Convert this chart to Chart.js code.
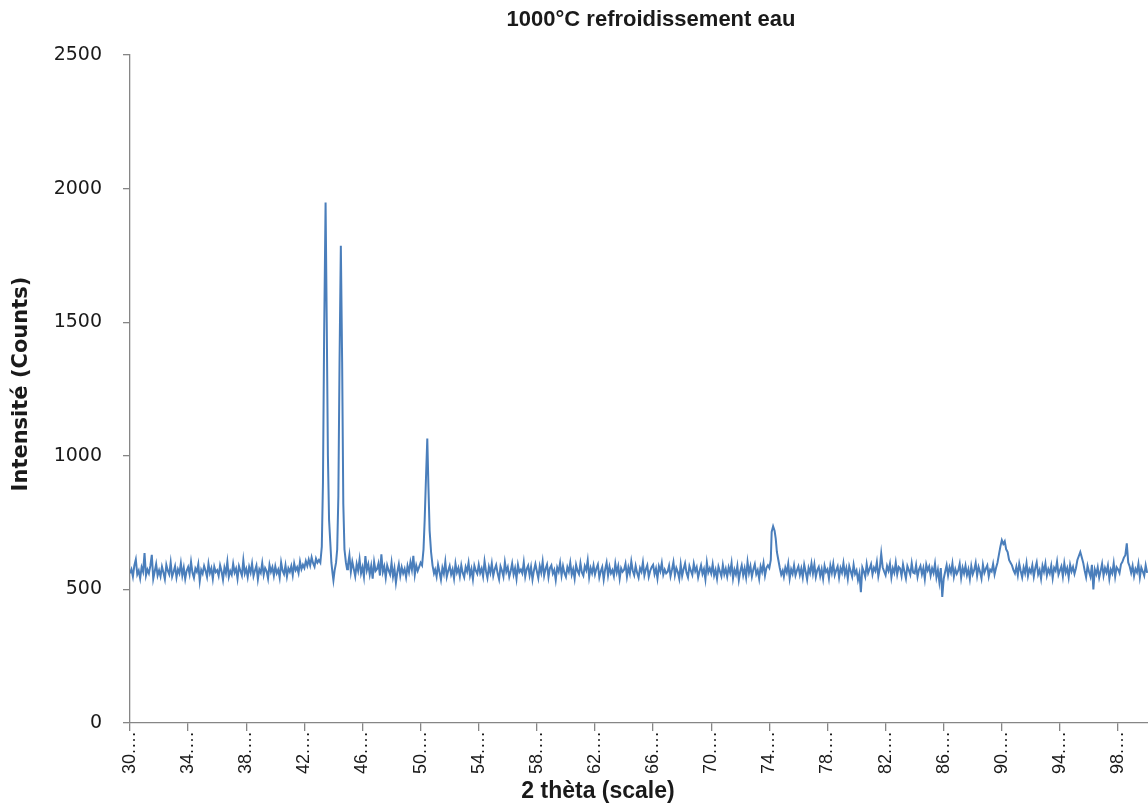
<!DOCTYPE html>
<html><head><meta charset="utf-8">
<script src="https://cdn.jsdelivr.net/npm/chart.js@4/dist/chart.umd.min.js"></script>
<style>html,body{margin:0;padding:0;background:#fff;overflow:hidden}#wrap{width:1148px;height:811px;position:relative}</style>
</head><body><div id="wrap"><canvas id="c" width="1148" height="811"></canvas></div>
<script>
const chartTitle = '1000°C refroidissement eau';
const yAxisTitle = 'Intensité (Counts)';
const xAxisTitle = '2 thèta (scale)';
const xTickValues = [30,34,38,42,46,50,54,58,62,66,70,74,78,82,86,90,94,98];
const xTickLabels = ['30.…','34.…','38.…','42.…','46.…','50.…','54.…','58.…','62.…','66.…','70.…','74.…','78.…','82.…','86.…','90.…','94.…','98.…'];
const yTickValues = [0,500,1000,1500,2000,2500];

const twoTheta = [
30.0,30.1,30.2,30.3,30.4,30.5,30.6,30.7,30.8,30.9,
31.0,31.1,31.2,31.3,31.4,31.5,31.6,31.7,31.8,31.9,
32.0,32.1,32.2,32.3,32.4,32.5,32.6,32.7,32.8,32.9,
33.0,33.1,33.2,33.3,33.4,33.5,33.6,33.7,33.8,33.9,
34.0,34.1,34.2,34.3,34.4,34.5,34.6,34.7,34.8,34.9,
35.0,35.1,35.2,35.3,35.4,35.5,35.6,35.7,35.8,35.9,
36.0,36.1,36.2,36.3,36.4,36.5,36.6,36.7,36.8,36.9,
37.0,37.1,37.2,37.3,37.4,37.5,37.6,37.7,37.8,37.9,
38.0,38.1,38.2,38.3,38.4,38.5,38.6,38.7,38.8,38.9,
39.0,39.1,39.2,39.3,39.4,39.5,39.6,39.7,39.8,39.9,
40.0,40.1,40.2,40.3,40.4,40.5,40.6,40.7,40.8,40.9,
41.0,41.1,41.2,41.3,41.4,41.5,41.6,41.7,41.8,41.9,
42.0,42.1,42.2,42.3,42.4,42.5,42.6,42.7,42.8,42.9,
43.0,43.1,43.2,43.28,43.36,43.46,43.54,43.62,43.7,43.78,43.86,43.94,
44.0,44.08,44.18,44.26,44.34,44.42,44.51,44.6,44.68,44.76,44.86,44.94,
45.0,45.1,45.2,45.3,45.4,45.5,45.6,45.7,45.8,45.9,
46.0,46.1,46.2,46.3,46.4,46.5,46.6,46.7,46.8,46.9,
47.0,47.1,47.2,47.3,47.4,47.5,47.6,47.7,47.8,47.9,
48.0,48.1,48.2,48.3,48.4,48.5,48.6,48.7,48.8,48.9,
49.0,49.1,49.2,49.3,49.4,49.5,49.6,49.7,49.8,49.9,
50.0,50.1,50.2,50.28,50.36,50.46,50.54,50.62,50.72,50.82,50.92,
51.0,51.1,51.2,51.3,51.4,51.5,51.6,51.7,51.8,51.9,
52.0,52.1,52.2,52.3,52.4,52.5,52.6,52.7,52.8,52.9,
53.0,53.1,53.2,53.3,53.4,53.5,53.6,53.7,53.8,53.9,
54.0,54.1,54.2,54.3,54.4,54.5,54.6,54.7,54.8,54.9,
55.0,55.1,55.2,55.3,55.4,55.5,55.6,55.7,55.8,55.9,
56.0,56.1,56.2,56.3,56.4,56.5,56.6,56.7,56.8,56.9,
57.0,57.1,57.2,57.3,57.4,57.5,57.6,57.7,57.8,57.9,
58.0,58.1,58.2,58.3,58.4,58.5,58.6,58.7,58.8,58.9,
59.0,59.1,59.2,59.3,59.4,59.5,59.6,59.7,59.8,59.9,
60.0,60.1,60.2,60.3,60.4,60.5,60.6,60.7,60.8,60.9,
61.0,61.1,61.2,61.3,61.4,61.5,61.6,61.7,61.8,61.9,
62.0,62.1,62.2,62.3,62.4,62.5,62.6,62.7,62.8,62.9,
63.0,63.1,63.2,63.3,63.4,63.5,63.6,63.7,63.8,63.9,
64.0,64.1,64.2,64.3,64.4,64.5,64.6,64.7,64.8,64.9,
65.0,65.1,65.2,65.3,65.4,65.5,65.6,65.7,65.8,65.9,
66.0,66.1,66.2,66.3,66.4,66.5,66.6,66.7,66.8,66.9,
67.0,67.1,67.2,67.3,67.4,67.5,67.6,67.7,67.8,67.9,
68.0,68.1,68.2,68.3,68.4,68.5,68.6,68.7,68.8,68.9,
69.0,69.1,69.2,69.3,69.4,69.5,69.6,69.7,69.8,69.9,
70.0,70.1,70.2,70.3,70.4,70.5,70.6,70.7,70.8,70.9,
71.0,71.1,71.2,71.3,71.4,71.5,71.6,71.7,71.8,71.9,
72.0,72.1,72.2,72.3,72.4,72.5,72.6,72.7,72.8,72.9,
73.0,73.1,73.2,73.3,73.4,73.5,73.6,73.7,73.8,73.9,
74.0,74.1,74.16,74.26,74.36,74.44,74.52,74.62,74.72,74.82,74.92,
75.0,75.1,75.2,75.3,75.4,75.5,75.6,75.7,75.8,75.9,
76.0,76.1,76.2,76.3,76.4,76.5,76.6,76.7,76.8,76.9,
77.0,77.1,77.2,77.3,77.4,77.5,77.6,77.7,77.8,77.9,
78.0,78.1,78.2,78.3,78.4,78.5,78.6,78.7,78.8,78.9,
79.0,79.1,79.2,79.3,79.4,79.5,79.6,79.7,79.8,79.9,
80.0,80.1,80.2,80.3,80.4,80.5,80.6,80.7,80.8,80.9,
81.0,81.1,81.2,81.3,81.4,81.5,81.6,81.7,81.8,81.9,
82.0,82.1,82.2,82.3,82.4,82.5,82.6,82.7,82.8,82.9,
83.0,83.1,83.2,83.3,83.4,83.5,83.6,83.7,83.8,83.9,
84.0,84.1,84.2,84.3,84.4,84.5,84.6,84.7,84.8,84.9,
85.0,85.1,85.2,85.3,85.4,85.5,85.6,85.7,85.8,85.9,
86.0,86.1,86.2,86.3,86.4,86.5,86.6,86.7,86.8,86.9,
87.0,87.1,87.2,87.3,87.4,87.5,87.6,87.7,87.8,87.9,
88.0,88.1,88.2,88.3,88.4,88.5,88.6,88.7,88.8,88.9,
89.0,89.1,89.2,89.3,89.4,89.5,89.6,89.7,89.8,89.9,
90.0,90.1,90.2,90.3,90.4,90.5,90.6,90.7,90.8,90.9,
91.0,91.1,91.2,91.3,91.4,91.5,91.6,91.7,91.8,91.9,
92.0,92.1,92.2,92.3,92.4,92.5,92.6,92.7,92.8,92.9,
93.0,93.1,93.2,93.3,93.4,93.5,93.6,93.7,93.8,93.9,
94.0,94.1,94.2,94.3,94.4,94.5,94.6,94.7,94.8,94.9,
95.0,95.1,95.2,95.3,95.4,95.5,95.6,95.7,95.8,95.9,
96.0,96.1,96.2,96.3,96.4,96.5,96.6,96.7,96.8,96.9,
97.0,97.1,97.2,97.3,97.4,97.5,97.6,97.7,97.8,97.9,
98.0,98.1,98.2,98.3,98.4,98.5,98.6,98.7,98.8,98.9,
99.0,99.1,99.2,99.3,99.4,99.5,99.6,99.7,99.8,99.9,
100.0
];

const counts = [
560,575,548,590,612,556,570,541,583,566,
636,552,574,560,588,629,540,567,595,552,
571,549,585,563,538,592,570,556,601,548,
566,587,545,575,560,598,552,581,539,570,
584,557,603,562,543,578,566,594,531,573,
559,588,570,547,596,561,579,540,585,565,
572,551,590,568,536,582,560,604,547,569,
555,596,563,578,540,587,569,552,609,560,
577,546,584,563,597,550,571,589,538,575,
562,599,554,580,569,541,592,566,583,551,
586,560,574,544,601,570,557,590,548,579,
566,587,553,597,572,583,561,604,576,592,
580,606,588,612,590,620,598,585,615,600,
610,600,660,900,1450,1948,1500,1000,760,680,600,560,
534,570,600,650,850,1350,1786,1350,820,650,600,575,
590,628,566,604,577,549,595,570,612,560,
583,547,625,572,594,556,588,540,603,569,
576,597,552,631,565,586,544,590,571,556,
600,548,579,525,566,594,551,583,560,577,
546,588,564,602,573,626,555,590,569,584,
600,590,650,760,900,1065,880,720,640,590,560,
574,548,592,565,536,581,559,603,547,570,
588,556,575,541,596,563,580,549,590,561,
545,584,567,600,552,576,538,589,570,558,
592,561,578,549,605,568,543,584,562,597,
551,575,591,560,538,586,570,548,602,566,
583,547,569,597,556,579,540,592,565,574,
560,601,548,576,589,553,584,537,571,595,
568,542,587,563,604,551,577,593,546,580,
590,559,573,535,582,566,599,552,587,561,
547,583,566,600,555,576,541,592,569,557,
598,563,551,587,572,609,546,580,561,590,
556,578,593,545,568,584,537,575,600,552,
585,560,572,550,597,563,587,541,579,566,
573,596,548,582,559,605,570,553,588,562,
544,580,566,601,552,575,590,547,569,583,
592,557,578,541,586,568,599,555,574,560,
566,589,549,574,602,553,580,565,540,593,
551,576,597,562,545,587,570,554,596,568,
583,545,569,590,558,576,538,601,563,579,
560,594,552,573,540,585,567,549,591,557,
577,548,583,563,599,541,574,556,588,535,
568,590,553,579,545,603,562,587,548,575,
594,557,572,540,586,566,598,552,581,590,
580,610,715,736,720,690,640,610,580,555,570,
548,582,563,596,541,575,558,590,552,571,
586,554,578,545,592,566,537,580,561,597,
559,593,547,572,584,550,576,540,588,565,
575,541,589,562,596,553,571,586,544,580,
563,598,556,579,540,587,568,548,592,558,
571,535,560,490,582,567,548,595,561,577,
594,556,581,569,602,549,578,634,583,567,
553,588,570,596,545,579,562,600,556,584,
578,550,593,566,541,587,572,555,598,563,
560,591,547,574,588,557,580,539,593,571,
586,552,579,561,596,545,573,528,580,472,
540,566,590,552,583,563,597,548,576,558,
571,596,544,581,560,589,553,575,539,587,
557,573,599,551,584,566,541,592,562,578,
590,548,574,567,595,556,580,600,630,660,
684,670,680,650,640,610,600,590,572,560,
585,553,596,569,545,582,561,598,550,576,
563,590,548,579,601,556,573,540,588,566,
597,552,576,560,589,543,581,570,604,555,
571,586,549,598,563,580,545,592,567,584,
558,579,610,625,640,620,600,571,546,588,
566,548,592,500,575,557,583,544,569,596,
552,580,563,589,540,574,560,598,548,583,
575,561,594,603,619,628,672,601,586,562,
588,550,577,564,596,545,582,567,551,590,
562
];

const axisColor = '#868686';
const textColor = '#1a1a1a';
const lineColor = '#4a7ebb';
const titleFont = "'Liberation Sans', sans-serif";

const textPlugin = {
  id: 'texts',
  afterDraw(chart) {
    const ctx = chart.ctx;
    ctx.save();
    ctx.fillStyle = textColor;
    ctx.textAlign = 'center';
    ctx.textBaseline = 'middle';
    ctx.font = "bold 22px " + titleFont;
    ctx.fillText(chartTitle, 651, 20);
    ctx.font = "bold 23px " + titleFont;
    ctx.fillText(xAxisTitle, 598, 792);
    ctx.translate(22, 384);
    ctx.rotate(-Math.PI / 2);
    ctx.font = "bold 21px 'DejaVu Sans', sans-serif";
    ctx.fillText(yAxisTitle, 0, 0);
    ctx.restore();
  }
};

const data = twoTheta.map((t, i) => ({x: t, y: counts[i]}));

new Chart(document.getElementById('c'), {
  type: 'line',
  data: { datasets: [{ data, borderColor: lineColor, borderWidth: 2, pointRadius: 0, tension: 0, fill: false }] },
  options: {
    responsive: false, animation: false, devicePixelRatio: 1,
    layout: { padding: { top: 55, right: 0, left: 0, bottom: 0 } },
    plugins: { legend: { display: false }, tooltip: { enabled: false }, title: { display: false } },
    scales: {
      x: {
        type: 'linear', min: 30, max: 100.06,
        afterBuildTicks: s => { s.ticks = xTickValues.map(v => ({ value: v })); },
        afterFit: s => { s.height = 88; },
        ticks: { autoSkip: false, maxRotation: 90, minRotation: 90, padding: 0,
          color: textColor, font: { family: "'Liberation Sans', sans-serif", size: 18 },
          callback: (v, i) => xTickLabels[i] },
        grid: { drawOnChartArea: false, drawTicks: true, tickLength: 8, color: axisColor, lineWidth: 1.3 },
        border: { display: true, color: axisColor, width: 1.3 }
      },
      y: {
        min: 0, max: 2500,
        afterBuildTicks: s => { s.ticks = yTickValues.map(v => ({ value: v })); },
        afterFit: s => { s.width = 130; },
        ticks: { padding: 21, color: textColor, font: { family: "'DejaVu Sans', sans-serif", size: 19 },
          callback: v => String(v) },
        grid: { drawOnChartArea: false, drawTicks: true, tickLength: 7, color: axisColor, lineWidth: 1.3 },
        border: { display: true, color: axisColor, width: 1.3 }
      }
    }
  },
  plugins: [textPlugin]
});
</script></body></html>
